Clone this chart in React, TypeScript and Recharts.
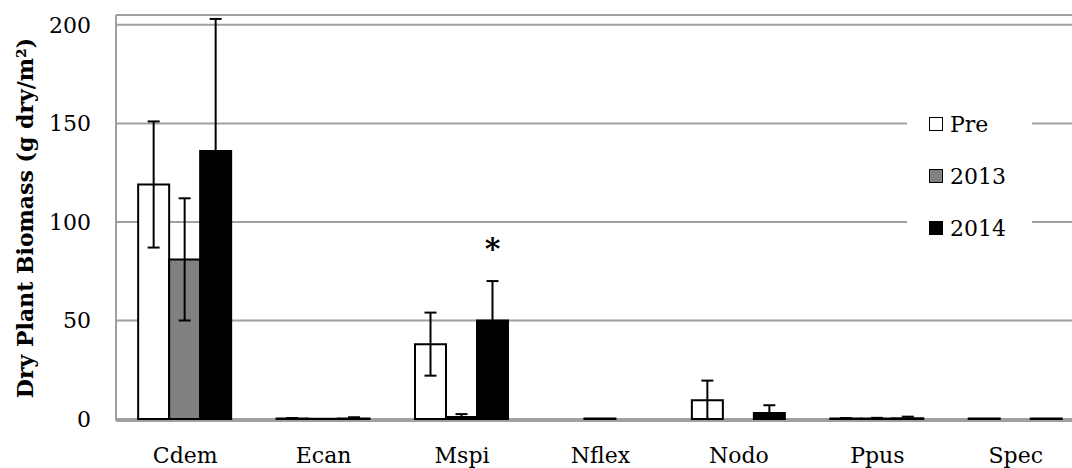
import React from 'react';
import { BarChart, Bar, XAxis, YAxis, CartesianGrid, Legend, ErrorBar, LabelList } from 'recharts';

const species = ['Cdem', 'Ecan', 'Mspi', 'Nflex', 'Nodo', 'Ppus', 'Spec'];
const prePeriod = [119, 0.3, 38, 0, 9.5, 0.3, 0.3];
const preErr = [32, 0.2, 16, 0, 10, 0.2, 0];
const year2013 = [81, 0.2, 1, 0.3, 0, 0.3, 0];
const err2013 = [31, 0, 1.5, 0, 0, 0.3, 0];
const year2014 = [136, 0.3, 50, 0, 3, 0.4, 0.3];
const err2014 = [67, 0.6, 20, 0, 4, 0.8, 0];
const significance = ['', '', '*', '', '', '', ''];
const yTicks = [0, 50, 100, 150, 200];

const data = species.map((name, i) => ({
    name,
    Pre: prePeriod[i],
    preErr: preErr[i],
    '2013': year2013[i],
    err2013: err2013[i],
    '2014': year2014[i],
    err2014: err2014[i],
    sig: significance[i],
}));

const FONT = '"DejaVu Serif", serif';
const GRID = '#a0a0a0';

const legendItems = [
    { label: 'Pre', fill: '#ffffff' },
    { label: '2013', fill: '#808080' },
    { label: '2014', fill: '#000000' },
];

const ChartLegend = () => (
    <div style={{ background: '#fff', width: 125, paddingLeft: 22, boxSizing: 'border-box', fontFamily: FONT, fontSize: 22 }}>
        {legendItems.map(item => (
            <div key={item.label} style={{ height: 52, display: 'flex', alignItems: 'center' }}>
                <span style={{ display: 'inline-block', width: 12, height: 12, background: item.fill, border: '1.5px solid #000', marginRight: 7 }} />
                <span>{item.label}</span>
            </div>
        ))}
    </div>
);

const Asterisk = (props: any) => {
    const { x, y, width, value } = props;
    if (!value) return null;
    return (
        <text x={x + width / 2} y={y - 61} textAnchor="middle" fontFamily={FONT} fontWeight="bold" fontSize={30} fill="#000">
            {value}
        </text>
    );
};

const YTitle = (props: any) => {
    const { viewBox } = props;
    const cy = viewBox.y + viewBox.height / 2;
    return (
        <text x={25} y={cy} transform={`rotate(-90, 25, ${cy})`} textAnchor="middle" dominantBaseline="central"
            fontFamily={FONT} fontWeight="bold" fontSize={22} fill="#000">
            Dry Plant Biomass (g dry/m²)
        </text>
    );
};

const App: React.FC = () => {
    return (
        <div style={{ position: 'absolute', left: 0, top: 0, width: 1072, height: 468, overflow: 'hidden', background: '#fff' }}>
            <BarChart width={1090} height={468} data={data} margin={{ top: 15, right: 5, bottom: 7, left: 0 }}
                barCategoryGap="16%" barGap={0}>
                <CartesianGrid vertical={false} stroke={GRID} strokeWidth={2} />
                <XAxis dataKey="name" stroke={GRID} strokeWidth={2} tickLine={false} tickSize={0} tickMargin={26} height={40}
                    tick={{ fill: '#000', fontFamily: FONT, fontSize: 22 }} />
                <YAxis domain={[0, 205]} ticks={yTicks} width={116} stroke={GRID} strokeWidth={2} tickLine={false} tickSize={0} tickMargin={25}
                    tick={{ fill: '#000', fontFamily: FONT, fontSize: 22 }} label={<YTitle />} />
                <Legend layout="vertical" align="center" verticalAlign="middle" content={<ChartLegend />}
                    wrapperStyle={{ top: 98, left: 907, width: 125, right: 'auto', bottom: 'auto' }} />
                <Bar dataKey="Pre" fill="#ffffff" stroke="#000" strokeWidth={2} isAnimationActive={false}>
                    <ErrorBar dataKey="preErr" width={6} stroke="#000" strokeWidth={2} direction="y" />
                </Bar>
                <Bar dataKey="2013" fill="#808080" stroke="#000" strokeWidth={2} isAnimationActive={false}>
                    <ErrorBar dataKey="err2013" width={6} stroke="#000" strokeWidth={2} direction="y" />
                </Bar>
                <Bar dataKey="2014" fill="#000000" stroke="#000" strokeWidth={2} isAnimationActive={false}>
                    <ErrorBar dataKey="err2014" width={6} stroke="#000" strokeWidth={2} direction="y" />
                    <LabelList dataKey="sig" content={<Asterisk />} />
                </Bar>
            </BarChart>
        </div>
    );
};

export default App;
